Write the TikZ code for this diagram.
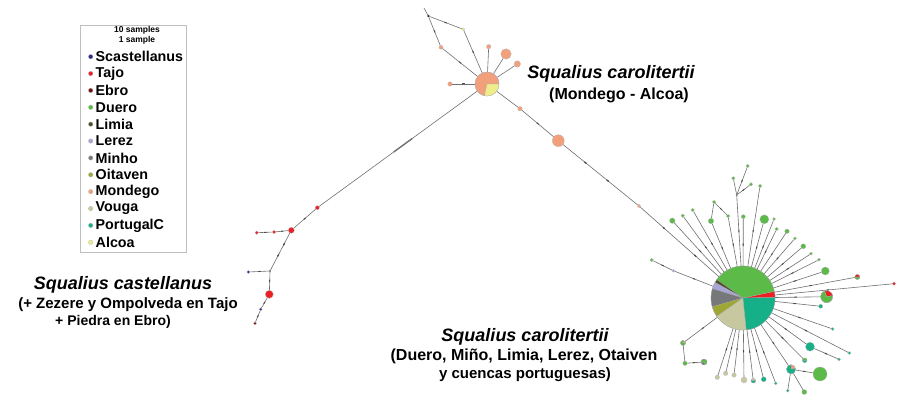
\documentclass[tikz,border=0pt]{standalone}
\usepackage{fontspec}
\setmainfont{Liberation Sans}
\usetikzlibrary{calc,decorations.markings}
\definecolor{cScast}{RGB}{45,45,140}
\definecolor{cTajo}{RGB}{236,32,36}
\definecolor{cEbro}{RGB}{120,18,18}
\definecolor{cDuero}{RGB}{92,186,72}
\definecolor{cLimia}{RGB}{78,80,40}
\definecolor{cLerez}{RGB}{168,166,216}
\definecolor{cMinho}{RGB}{118,120,122}
\definecolor{cOitaven}{RGB}{158,166,52}
\definecolor{cMondego}{RGB}{242,160,124}
\definecolor{cVouga}{RGB}{200,200,160}
\definecolor{cPortC}{RGB}{22,176,136}
\definecolor{cAlcoa}{RGB}{240,236,138}
\definecolor{cEdge}{RGB}{112,112,112}
\newcommand\pw[5]{\fill[#5,draw=black!35,line width=0.2pt] (#1) -- ++(#3:#2pt) arc[start angle=#3, end angle=#4, radius=#2pt] -- cycle;}
\tikzset{
  edge/.style={draw=cEdge, line width=0.6pt},
  nd/.style 2 args={circle, inner sep=0pt, minimum size=#2pt, fill=#1, draw=black!30, line width=0.2pt},
  pienode/.style={circle, inner sep=0pt, minimum size=#1pt, draw=black!40, line width=0.3pt},
  tk/.style={postaction={decorate}, decoration={markings, mark=at position #1 with {\fill[black!70] (-1.2pt,-0.5pt) rectangle (1.2pt,0.5pt);}}},
  tk/.default=0.5,
  lbla/.style={font=\fontsize{18}{20}\selectfont\bfseries\itshape, inner sep=0pt},
  lblb/.style={font=\fontsize{#1}{16}\selectfont\bfseries, inner sep=0pt},
  lblb/.default=15,
  legt/.style={font=\fontsize{14.3}{16}\selectfont\bfseries, inner sep=0pt, anchor=west},
  legs/.style={font=\fontsize{8.5}{9}\selectfont\bfseries, inner sep=0pt},
}
\begin{document}
\begin{tikzpicture}[x=1pt,y=-1pt]
\useasboundingbox[fill=white] (0,0) rectangle (897,396);

% ---------- legend ----------
\node[draw=black!25, line width=0.5pt, minimum width=106pt, minimum height=227pt, inner sep=0pt] (legbox) at (133,138.5) {};
\node[legs] (leg10) at (137,30.7) {10 samples};
\node[legs] (leg1) at (137,40) {1 sample};
\foreach \c/\t [count=\i from 0] in {cScast/Scastellanus,cTajo/Tajo,cEbro/Ebro,cDuero/Duero,cLimia/Limia,cLerez/Lerez,cMinho/Minho,cOitaven/Oitaven,cMondego/Mondego,cVouga/Vouga,cPortC/PortugalC,cAlcoa/Alcoa}{
  \node[nd={\c}{4.5}] (ld\i) at (90.7,{56.7+16.87*\i}) {};
  \node[legt] (lt\i) at (95.5,{56.7+16.87*\i}) {\t};
}

% ---------- labels ----------
\node[lbla] (tt1) at (611,74) {Squalius carolitertii};
\node[lblb=16] (tt2) at (619,95) {(Mondego - Alcoa)};
\node[lbla] (ct1) at (123,285) {Squalius castellanus};
\node[lblb=15] (ct2) at (128,305) {(+ Zezere y Ompolveda en Tajo};
\node[lblb=14] (ct3) at (113,322) {+ Piedra en Ebro)};
\node[lbla] (bt1) at (525,337) {Squalius carolitertii};
\node[lblb=16] (bt2) at (524,356) {(Duero, Miño, Limia, Lerez, Otaiven};
\node[lblb=15] (bt3) at (525,375) {y cuencas portuguesas)};

% ---------- top cluster (Mondego - Alcoa) ----------
\node[pienode=24] (TP) at (487,84) {};
\coordinate (stub) at (424,8);
\node[nd={black}{2.5}] (blk) at (428.3,16) {};
\node[nd={cAlcoa}{3.2}] (y1) at (463.3,29.3) {};
\node[nd={cMondego}{4}] (s1) at (441,47.3) {};
\node[nd={cMondego}{4.5}] (s2) at (488.7,46.7) {};
\node[nd={cMondego}{10.5}] (s3) at (506,54) {};
\node[nd={cMondego}{6.5}] (s4) at (517.3,64) {};
\node[nd={cMondego}{4.5}] (s5) at (450,84) {};
\node[nd={cMondego}{4.5}] (s6) at (520,108.7) {};
\node[nd={cMondego}{12}] (s7) at (558.3,140.7) {};
\node[nd={cMondego}{3.5}] (s8) at (639,206) {};

% ---------- left cluster (castellanus) ----------
\node[nd={cTajo}{4}] (r1) at (317.3,207.7) {};
\node[nd={cTajo}{6}] (R1) at (291.3,230.3) {};
\node[nd={cTajo}{3.5}] (r2) at (274,232) {};
\node[nd={cTajo}{3.5}] (r3) at (256.7,232.7) {};
\node[nd={black}{1.6}] (jn) at (270,271) {};
\node[nd={cScast}{3}] (bl1) at (248.3,272) {};
\node[nd={cTajo}{8}] (R2) at (269.3,294.3) {};
\node[nd={cScast}{3}] (bl2) at (260.7,309.3) {};
\node[nd={cEbro}{3}] (eb) at (255,323.3) {};

% ---------- big cluster ----------
\node[pienode=64] (BP) at (743,298) {};
\node[nd={cDuero}{3.5}] (g1) at (651.7,260) {};
\node[nd={cLerez}{3}] (lv1) at (673.3,270.7) {};
\node[nd={cDuero}{5.5}] (g2) at (672.3,220.7) {};
\node[nd={cDuero}{3.5}] (g3) at (682.7,215.7) {};
\node[nd={cDuero}{3.5}] (g4) at (692.7,210) {};
\node[nd={cDuero}{3.5}] (g5) at (714,202) {};
\node[nd={cDuero}{5.5}] (g6) at (711,221) {};
\node[nd={cDuero}{3.5}] (g7) at (728,216) {};
\node[nd={black}{1.6}] (j1) at (736.7,195) {};
\node[nd={cDuero}{3.5}] (g8) at (733.3,178.3) {};
\node[nd={cDuero}{3.5}] (g9) at (747.7,166) {};
\node[nd={cDuero}{3.5}] (g10) at (751,184.3) {};
\node[nd={cDuero}{4}] (g11) at (743.3,216.7) {};
\node[nd={cDuero}{3.5}] (g12) at (760,186) {};
\node[nd={cDuero}{9}] (g13) at (764.3,219.3) {};
\node[nd={cDuero}{3}] (g14) at (774,219) {};
\node[nd={cDuero}{3.5}] (g15) at (776.7,229) {};
\node[nd={cDuero}{4.5}] (g16) at (787,231.3) {};
\node[nd={cDuero}{3}] (g17) at (795,238.3) {};
\node[nd={cDuero}{5}] (g18) at (803.3,246.3) {};
\node[nd={cDuero}{3}] (g19) at (811,253.7) {};
\node[nd={cDuero}{3}] (g20) at (819,259.7) {};
\node[nd={cDuero}{8}] (g21) at (825.3,271) {};
\node[pienode=5] (gr1) at (857.3,277) {};
\node[nd={cTajo}{3.5}] (rr1) at (894,283.7) {};
\node[pienode=12] (gr2) at (826.7,296.7) {};
\node[nd={cPortC}{4}] (t1) at (820.7,306.3) {};
\node[nd={cPortC}{3}] (t2) at (832.7,329) {};
\node[nd={cPortC}{3}] (t3) at (849.3,353) {};
\node[nd={cPortC}{9}] (t4) at (810,346.7) {};
\node[nd={cPortC}{3}] (t5) at (839,359.3) {};
\node[pienode=4.5] (gt1) at (804.7,360.3) {};
\node[pienode=9] (ts1) at (791,369.3) {};
\node[nd={cDuero}{14}] (G1) at (820,374) {};
\node[nd={cPortC}{3}] (t6) at (787.7,390.7) {};
\node[nd={cDuero}{5}] (g22) at (804.3,392) {};
\node[nd={cPortC}{3}] (t7) at (775.7,383.3) {};
\node[nd={cPortC}{5}] (t8) at (763.7,379.3) {};
\node[pienode=4.5] (bt) at (753.3,380.7) {};
\node[nd={cVouga}{6}] (b1) at (744,380) {};
\node[nd={cVouga}{4.5}] (b2) at (734,375) {};
\node[nd={cVouga}{4.5}] (b3) at (725.7,373.3) {};
\node[nd={cVouga}{4.5}] (b4) at (717.3,377.3) {};
\node[pienode=5] (gs1) at (683,343) {};
\node[nd={cDuero}{4.5}] (g23) at (685,363.3) {};
\node[pienode=6] (gd1) at (704,362) {};

% ---------- edges ----------
\draw[edge] (stub) -- (blk);
\draw[edge,tk] (blk) -- (y1);
\draw[edge,tk] (y1) -- (TP);
\draw[edge,tk] (blk) -- (s1);
\draw[edge,tk] (s1) -- (TP);
\draw[edge] (TP) -- (s2);
\draw[edge] (TP) -- (s3);
\draw[edge] (TP) -- (s4);
\draw[edge,tk] (TP) -- (s5);
\draw[edge] (TP) -- (s6);
\draw[edge,tk] (s6) -- (s7);
\draw[edge,tk=0.3,tk=0.6] (s7) -- (s8);
\draw[edge,tk=0.3,tk=0.7] (s8) -- (BP);
\draw[edge] (TP) -- (r1);
\draw[line width=1.4pt, black!55] ($(TP)!0.44!(r1)$) -- ($(TP)!0.55!(r1)$);
\draw[edge,tk] (r1) -- (R1);
\draw[edge,tk] (R1) -- (r2);
\draw[edge,tk] (r2) -- (r3);
\draw[edge,tk=0.3,tk=0.6] (R1) -- (jn);
\draw[edge,tk] (jn) -- (bl1);
\draw[edge,tk] (jn) -- (R2);
\draw[edge,tk] (R2) -- (bl2);
\draw[edge,tk] (bl2) -- (eb);

\draw[edge,tk] (g1) -- (lv1);
\draw[edge,tk] (lv1) -- (BP);
\foreach \n in {g2,g3,g4,g6,g7,g11,g12,g13,g14,g15,g16,g17,g18,g19,g20,g21,gr1,rr1,gr2,t1,t2,t3,t4,gt1,ts1,t7,t8,bt,b1,b2,b3,b4,gs1}{
  \draw[edge,tk=0.45] (BP) -- (\n);
}
\draw[edge,tk] (BP) -- (j1);
\draw[edge] (g5) -- (g6);
\draw[edge,tk] (g5) -- (g7);
\draw[edge] (j1) -- (g8);
\draw[edge,tk] (j1) -- (g9);
\draw[edge,tk] (j1) -- (g10);
\draw[edge,tk] (t4) -- (t5);
\draw[edge,tk] (ts1) -- (G1);
\draw[edge] (ts1) -- (t6);
\draw[edge] (ts1) -- (g22);
\draw[edge] (gs1) -- (g23);
\draw[edge,tk] (g23) -- (gd1);

% ---------- pie slices ----------
\pw{BP.center}{32}{1}{12}{cTajo}
\pw{BP.center}{32}{12}{145}{cDuero}
\pw{BP.center}{32}{145}{151}{cLimia}
\pw{BP.center}{32}{151}{163}{cLerez}
\pw{BP.center}{32}{163}{196}{cMinho}
\pw{BP.center}{32}{196}{215}{cOitaven}
\pw{BP.center}{32}{215}{276}{cVouga}
\pw{BP.center}{32}{276}{361}{cPortC}
\pw{TP.center}{12}{0}{258}{cMondego}
\pw{TP.center}{12}{258}{360}{cAlcoa}
\pw{gr1.center}{2.5}{0}{180}{cTajo}
\pw{gr1.center}{2.5}{180}{360}{cDuero}
\pw{gr2.center}{6}{10}{110}{cTajo}
\pw{gr2.center}{6}{110}{370}{cDuero}
\pw{gt1.center}{2.25}{0}{180}{cDuero}
\pw{gt1.center}{2.25}{180}{360}{cPortC}
\pw{ts1.center}{4.5}{10}{90}{cMondego}
\pw{ts1.center}{4.5}{90}{370}{cPortC}
\pw{bt.center}{2.25}{0}{180}{cVouga}
\pw{bt.center}{2.25}{180}{360}{cPortC}
\pw{gs1.center}{2.5}{0}{90}{cMondego}
\pw{gs1.center}{2.5}{90}{360}{cDuero}
\pw{gd1.center}{3}{190}{290}{cMinho}
\pw{gd1.center}{3}{290}{550}{cDuero}
\end{tikzpicture}
\end{document}
